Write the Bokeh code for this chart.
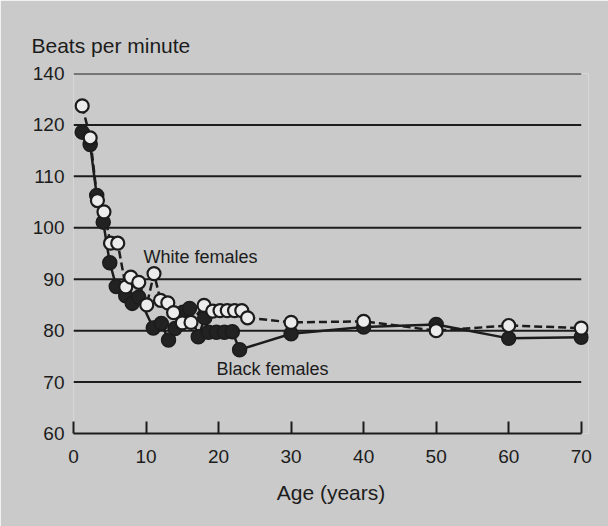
from bokeh.plotting import figure
from bokeh.models import Range1d, FixedTicker, Label, ColumnDataSource
from bokeh.embed import file_html
from bokeh.resources import INLINE

# Data
white_age = [1.2, 2.3, 3.3, 4.2, 5.1, 6.1, 7.2, 7.9, 9.0, 10.1, 11.1, 12.0, 13.0, 13.8,
             15.0, 16.2, 18.0, 19.2, 20.2, 21.2, 22.2, 23.2, 24.0, 30, 40, 50, 60, 70]
white_bpm = [123.7, 117.5, 105.3, 103.1, 97.0, 97.0, 88.5, 90.4, 89.4, 85.0, 91.1, 85.9, 85.4, 83.5,
             81.5, 81.6, 84.9, 83.8, 83.9, 83.9, 83.9, 83.9, 82.5, 81.6, 81.8, 80.0, 81.0, 80.5]

black_age = [1.2, 2.3, 3.2, 4.1, 5.0, 5.9, 7.2, 8.1, 9.0, 11.0, 12.1, 13.1, 14.0, 15.1,
             16.0, 17.2, 18.1, 18.6, 19.7, 20.8, 21.9, 22.9, 30, 40, 50, 60, 70]
black_bpm = [118.6, 116.2, 106.3, 101.1, 93.2, 88.6, 86.8, 85.3, 86.5, 80.5, 81.4, 78.2, 80.4, 83.6,
             84.3, 78.8, 82.5, 79.7, 79.7, 79.7, 79.8, 76.3, 79.4, 80.7, 81.2, 78.5, 78.7]

y_ticks = [60, 70, 80, 90, 100, 110, 120, 130]
y_tick_labels = {60: "60", 70: "70", 80: "80", 90: "90", 100: "100", 110: "110", 120: "120", 130: "140"}
x_ticks = [0, 10, 20, 30, 40, 50, 60, 70]

BG = "#cacaca"
INK = "#1c1c1c"
FONT = "Liberation Sans"

p = figure(width=608, height=526, output_backend="svg", toolbar_location=None,
           x_range=Range1d(0, 71), y_range=Range1d(60, 130),
           min_border_left=73, min_border_right=20, min_border_top=73, min_border_bottom=93,
           background_fill_color=BG, border_fill_color=BG, outline_line_color=None,
           title="Beats per minute")

p.title.text_font = FONT
p.title.text_font_size = "21px"
p.title.text_font_style = "normal"
p.title.text_color = INK
p.title.align = "left"
p.title.offset = -42
p.title.standoff = 34

p.xgrid.visible = False
p.ygrid.visible = False

# horizontal rules
gy = y_ticks[1:]
p.segment(x0=[x_ticks[0]] * len(gy), x1=[x_ticks[-1]] * len(gy), y0=gy, y1=gy,
          line_color=INK, line_width=2)

# x axis
xa = p.xaxis[0]
xa.ticker = FixedTicker(ticks=x_ticks)
xa.bounds = (0, 70)
xa.axis_line_color = INK
xa.axis_line_width = 2
xa.major_tick_in = 12
xa.major_tick_out = 0
xa.major_tick_line_color = INK
xa.major_tick_line_width = 2
xa.minor_tick_line_color = None
xa.major_label_standoff = 16
xa.major_label_text_font = FONT
xa.major_label_text_font_size = "19px"
xa.major_label_text_color = INK
xa.axis_label = "Age (years)"
xa.axis_label_text_font = FONT
xa.axis_label_text_font_size = "21px"
xa.axis_label_text_font_style = "normal"
xa.axis_label_text_color = INK
xa.axis_label_standoff = 15

# y axis
ya = p.yaxis[0]
ya.ticker = FixedTicker(ticks=y_ticks)
ya.major_label_overrides = y_tick_labels
ya.axis_line_color = None
ya.major_tick_line_color = None
ya.minor_tick_line_color = None
ya.major_label_standoff = 3
ya.major_label_text_font = FONT
ya.major_label_text_font_size = "19px"
ya.major_label_text_color = INK

wsrc = ColumnDataSource(dict(x=white_age, y=white_bpm))
bsrc = ColumnDataSource(dict(x=black_age, y=black_bpm))

p.line("x", "y", source=bsrc, line_color=INK, line_width=2.5)
p.line("x", "y", source=wsrc, line_color=INK, line_width=2.5, line_dash="8 4")
p.scatter("x", "y", source=bsrc, size=14, fill_color="#222222", line_color=INK, line_width=1.5)
p.scatter("x", "y", source=wsrc, size=13, fill_color="#ececec", line_color=INK, line_width=2.2)

p.add_layout(Label(x=9.65, y=94.4, text="White females", text_font=FONT, text_font_size="18px",
                   text_color=INK, text_baseline="middle", text_align="left"))
p.add_layout(Label(x=19.7, y=72.6, text="Black females", text_font=FONT, text_font_size="18px",
                   text_color=INK, text_baseline="middle", text_align="left"))

open("out.html", "w").write(file_html(p, INLINE))
